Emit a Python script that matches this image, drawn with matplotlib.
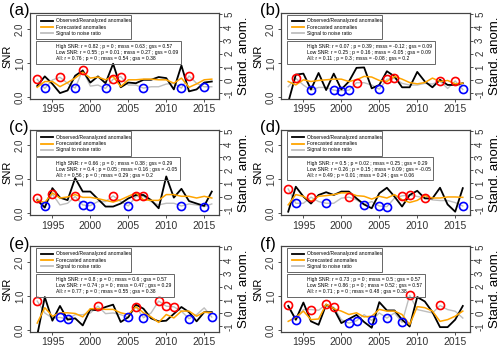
import matplotlib
matplotlib.use('Agg')
import matplotlib.pyplot as plt
from matplotlib.patches import Rectangle
from matplotlib.lines import Line2D

plt.rcParams['font.family'] = ['Liberation Sans', 'DejaVu Sans']
plt.rcParams['axes.unicode_minus'] = False

years = list(range(1993, 2017))
panel_labels = ['(a)', '(b)', '(c)', '(d)', '(e)', '(f)']
legend_labels = ['Observed/Reanalyzed anomalies', 'Forecasted anomalies', 'Signal to noise ratio']
x_ticks = [1995, 2000, 2005, 2010, 2015]
snr_ticks = [0.0, 1.0, 2.0]
anom_ticks = [-1, 0, 1, 2, 3, 4, 5]

# ---- panel (a)
obs_a = [-0.45, 0.28, -0.29, -0.99, -0.79, 0.33, 0.72, -0.19, 0.28, -0.24, 1.24, -0.55,
         -0.19, -0.24, 0.02, 0.02, 0.23, 0.15, -0.71, 1.11, -0.86, -0.71, -0.19, -0.11]
fc_a = [-0.55, -0.11, -0.11, -0.5, -0.19, 0.15, 0.59, 0.15, 0.23, 0.02, 0.28, -0.5,
        0.02, 0.02, 0.07, 0.07, 0.02, 0.02, -0.24, 0.15, -0.55, -0.29, 0.02, 0.07]
snr_a = [0.52, 0.25, 0.5, 0.58, 0.4, 0.26, 0.8, 0.32, 0.35, 0.25, 0.52, 0.6,
         0.35, 0.35, 0.26, 0.3, 0.3, 0.38, 0.4, 0.26, 0.62, 0.4, 0.3, 0.3]
high_a = [1993, 1996, 1999, 2003, 2004, 2013]
low_a = [1994, 1998, 2002, 2007, 2012, 2015]
stats_a = ['High SNR: r = 0.82 ; p = 0 ; msss = 0.63 ; gss = 0.57',
           'Low SNR: r = 0.55 ; p = 0.01 ; msss = 0.27 ; gss = 0.09',
           'All: r = 0.76 ; p = 0 ; msss = 0.54 ; gss = 0.38']

# ---- panel (b)
obs_b = [-1.7, 0.41, 0.49, -0.71, 0.54, -0.76, 0.49, -0.71, -0.11, 0.93, 0.96, -0.63,
         -0.37, 0.67, 0.28, -0.55, -0.55, 0.62, -0.11, -0.55, 0.02, -0.37, -0.37, -0.24]
fc_b = [-0.11, -0.37, 0.02, -0.11, -0.03, 0.02, 0.07, 0.07, -0.11, 0.02, 0.28, 0.23,
        -0.03, -0.11, 0.28, 0.07, -0.19, -0.29, -0.19, 0.15, -0.11, -0.03, -0.29, -0.24]
snr_b = [0.3, 0.55, 0.35, 0.2, 0.28, 0.28, 0.2, 0.19, 0.2, 0.42, 0.42, 0.35,
         0.23, 0.52, 0.55, 0.4, 0.35, 0.35, 0.4, 0.38, 0.47, 0.25, 0.47, 0.22]
high_b = [1994, 2002, 2006, 2007, 2013, 2015]
low_b = [1996, 1999, 2000, 2001, 2005, 2016]
stats_b = ['High SNR: r = 0.07 ; p = 0.39 ; msss = -0.12 ; gss = 0.09',
           'Low SNR: r = 0.25 ; p = 0.16 ; msss = -0.05 ; gss = 0.09',
           'All: r = 0.11 ; p = 0.3 ; msss = -0.08 ; gss = 0.2']

# ---- panel (c)
obs_c = [-0.27, -0.84, 0.64, -0.08, -0.27, 1.4, 0.38, 0.38, -0.19, -0.76, -0.76, -0.53,
         -0.14, 0.12, 0.12, -0.27, -0.89, 1.53, -0.08, 0.59, -0.34, -0.53, -0.71, 0.38]
fc_c = [-0.29, -0.45, 0.28, -0.11, -0.03, 0.15, -0.06, -0.06, -0.16, -0.29, -0.42, -0.24,
        0.02, 0.28, -0.24, -0.29, -0.29, 0.15, 0.15, 0.02, 0.02, -0.11, 0.02, -0.11]
snr_c = [0.45, 0.22, 0.57, 0.25, 0.3, 0.5, 0.25, 0.23, 0.35, 0.35, 0.52, 0.35,
         0.22, 0.5, 0.5, 0.35, 0.25, 0.3, 0.3, 0.22, 0.28, 0.25, 0.2, 0.28]
high_c = [1993, 1995, 1998, 2003, 2006, 2007]
low_c = [1994, 1999, 2000, 2005, 2012, 2015]
stats_c = ['High SNR: r = 0.66 ; p = 0 ; msss = 0.38 ; gss = 0.29',
           'Low SNR: r = 0.4 ; p = 0.05 ; msss = 0.16 ; gss = -0.05',
           'All: r = 0.56 ; p = 0 ; msss = 0.29 ; gss = 0.2']

# ---- panel (d)
obs_d = [-1.15, 0.75, 0.0, -0.53, 0.12, 0.33, 0.12, 0.38, 0.38, -0.14, -0.6, -0.89,
         0.25, 0.67, 0.0, -0.76, 0.12, 0.44, -0.14, -0.14, 0.67, -0.6, -1.15, 0.64]
fc_d = [-0.63, 0.15, 0.02, -0.37, 0.02, 0.07, 0.15, 0.28, 0.28, 0.07, 0.02, -0.19,
        0.02, -0.11, 0.15, -0.24, -0.45, -0.29, 0.07, -0.11, -0.11, -0.03, -0.03, -0.06]
snr_d = [0.72, 0.3, 0.3, 0.48, 0.35, 0.3, 0.3, 0.45, 0.48, 0.4, 0.26, 0.35,
         0.22, 0.2, 0.45, 0.52, 0.54, 0.5, 0.46, 0.4, 0.38, 0.38, 0.32, 0.22]
high_d = [1993, 1996, 2001, 2008, 2009, 2011]
low_d = [1994, 1998, 2003, 2005, 2006, 2016]
stats_d = ['High SNR: r = 0.5 ; p = 0.02 ; msss = 0.25 ; gss = 0.29',
           'Low SNR: r = 0.26 ; p = 0.15 ; msss = 0.09 ; gss = -0.05',
           'All: r = 0.49 ; p = 0.01 ; msss = 0.24 ; gss = 0.06']

# ---- panel (e)
obs_e = [-1.7, 1.22, -0.58, 0.54, -0.5, -0.4, -0.94, 0.28, 0.2, 0.46, 0.64, -0.68,
         -0.32, 0.64, 0.33, -0.4, -0.63, -0.58, -0.06, 0.46, 0.07, -0.63, 0.07, 0.07]
fc_e = [-0.76, 0.41, -0.24, 0.02, 0.02, -0.03, -0.29, 0.33, 0.33, 0.28, 0.28, 0.02,
        -0.11, 0.49, 0.02, -0.29, -0.71, -0.11, -0.37, 0.15, 0.15, -0.24, 0.07, 0.02]
snr_e = [0.85, 0.5, 0.35, 0.37, 0.32, 0.45, 0.45, 0.5, 0.7, 0.48, 0.5, 0.45,
         0.37, 0.68, 0.36, 0.5, 0.85, 0.7, 0.68, 0.55, 0.33, 0.45, 0.65, 0.38]
high_e = [1993, 2001, 2006, 2009, 2010, 2011]
low_e = [1996, 1997, 2005, 2007, 2013, 2016]
stats_e = ['High SNR: r = 0.8 ; p = 0 ; msss = 0.6 ; gss = 0.57',
           'Low SNR: r = 0.74 ; p = 0 ; msss = 0.47 ; gss = 0.29',
           'All: r = 0.77 ; p = 0 ; msss = 0.55 ; gss = 0.38']

# ---- panel (f)
obs_f = [0.54, -0.5, 0.8, -0.63, -0.89, 0.64, 0.33, -0.76, -0.45, -0.14, -0.68, -1.12,
         0.83, 0.2, 0.2, -0.5, -1.02, 1.22, 0.88, 0.07, -1.07, -1.07, -0.5, 0.54]
fc_f = [-0.63, -0.32, 0.15, -0.5, -0.45, 0.67, 0.33, 0.15, -0.11, 0.02, -0.29, -0.24,
        0.28, 0.15, 0.15, -0.11, -0.89, 0.49, 0.41, 0.15, -0.63, -0.5, -0.24, 0.15]
snr_f = [0.72, 0.28, 0.6, 0.6, 0.58, 0.75, 0.67, 0.3, 0.2, 0.27, 0.45, 0.28,
         0.5, 0.35, 0.5, 0.22, 1.02, 0.6, 0.55, 0.5, 0.72, 0.6, 0.55, 0.35]
high_f = [1993, 1996, 1998, 1999, 2009, 2013]
low_f = [1994, 2001, 2002, 2004, 2006, 2008]
stats_f = ['High SNR: r = 0.73 ; p = 0 ; msss = 0.5 ; gss = 0.57',
           'Low SNR: r = 0.86 ; p = 0 ; msss = 0.52 ; gss = 0.57',
           'All: r = 0.71 ; p = 0 ; msss = 0.48 ; gss = 0.38']

panels = [
    (obs_a, fc_a, snr_a, high_a, low_a, stats_a),
    (obs_b, fc_b, snr_b, high_b, low_b, stats_b),
    (obs_c, fc_c, snr_c, high_c, low_c, stats_c),
    (obs_d, fc_d, snr_d, high_d, low_d, stats_d),
    (obs_e, fc_e, snr_e, high_e, low_e, stats_e),
    (obs_f, fc_f, snr_f, high_f, low_f, stats_f),
]

W, H = 500, 348
fig = plt.figure(figsize=(5.0, 3.48), dpi=100)

C_OBS = 'black'
C_FC = '#FFA500'
C_SNR = '#BEBEBE'
SMALL = 3.6
stat_texts = []

for i, (obs, fc, snr, high, low, stats) in enumerate(panels):
    row, col = i // 2, i % 2
    left_px = 30 + 251 * col
    top_px = 13 + 116.5 * row
    ax = fig.add_axes([left_px / W, 1 - (top_px + 86) / H, 189 / W, 86 / H])
    ax2 = ax.twinx()
    ax3 = ax.twinx()

    ax.plot(years, snr, color=C_SNR, lw=1.0, zorder=2)
    ax2.plot(years, obs, color=C_OBS, lw=1.3, zorder=3)
    ax2.plot(years, fc, color=C_FC, lw=1.1, zorder=4)

    hi_v = [snr[years.index(y)] for y in high]
    lo_v = [snr[years.index(y)] for y in low]
    ax3.plot(high, hi_v, 'o', ms=5.8, mfc='none', mec='red', mew=1.2, ls='none')
    ax3.plot(low, lo_v, 'o', ms=5.8, mfc='none', mec='blue', mew=1.2, ls='none')

    for a in (ax, ax2, ax3):
        a.set_xlim(1992.05, 2016.95)
    ax.set_ylim(-0.06, 2.47)
    ax3.set_ylim(-0.06, 2.47)
    ax2.set_ylim(-1.44, 5.1)
    ax3.axis('off')

    ax.set_xticks(x_ticks)
    ax.set_xticklabels([str(t) for t in x_ticks], fontsize=7.5)
    ax.set_yticks(snr_ticks)
    ax.set_yticklabels(['%.1f' % t for t in snr_ticks], fontsize=7, rotation=90, va='center')
    ax2.set_yticks(anom_ticks)
    ax2.set_yticklabels([str(t) for t in anom_ticks], fontsize=7, rotation=90, va='center')
    ax.tick_params(axis='both', direction='out', length=2.5, width=0.6, pad=1.2, colors='#333333')
    ax2.tick_params(axis='y', direction='out', length=2.5, width=0.6, pad=1.2, colors='#333333')
    for a in (ax, ax2):
        for s in a.spines.values():
            s.set_linewidth(0.8)
            s.set_color('#444444')

    ax.set_ylabel('SNR', fontsize=8, labelpad=2)
    ax2.set_ylabel('Stand. anom.', fontsize=9.5, labelpad=3)

    # legend box
    ax3.add_patch(Rectangle((0.034, 0.694), 0.50, 0.283, transform=ax.transAxes,
                            fill=False, ec='#666666', lw=0.7, clip_on=False, zorder=5))
    for k, (c, lab) in enumerate(zip([C_OBS, C_FC, C_SNR], legend_labels)):
        yy = [0.910, 0.837, 0.764][k]
        ax3.add_line(Line2D([0.057, 0.123], [yy, yy], transform=ax.transAxes,
                            color=c, lw=1.3, clip_on=False, zorder=6))
        ax3.text(0.135, yy, lab, transform=ax.transAxes, fontsize=SMALL,
                 va='center', ha='left', zorder=6)
    # stats box
    sts = []
    for k, s in enumerate(stats):
        yy = [0.608, 0.540, 0.470][k]
        t = ax3.text(0.135, yy, s, transform=ax.transAxes, fontsize=SMALL,
                     va='center', ha='left', zorder=6)
        sts.append(t)
    stat_texts.append((ax, ax3, sts))

    fig.text((9 + 251 * col) / W, 1 - (11 + 116.5 * row) / H, panel_labels[i],
             fontsize=12, ha='left', va='center')

fig.canvas.draw()
r = fig.canvas.get_renderer()
for ax, ax3, sts in stat_texts:
    x1 = max(t.get_window_extent(r).x1 for t in sts)
    inv = ax.transAxes.inverted()
    xa = inv.transform((x1 + 3, 0))[0]
    ax3.add_patch(Rectangle((0.034, 0.407), xa - 0.034, 0.271, transform=ax.transAxes,
                            fill=False, ec='#666666', lw=0.7, clip_on=False, zorder=5))

fig.savefig('out.png', dpi=100)
